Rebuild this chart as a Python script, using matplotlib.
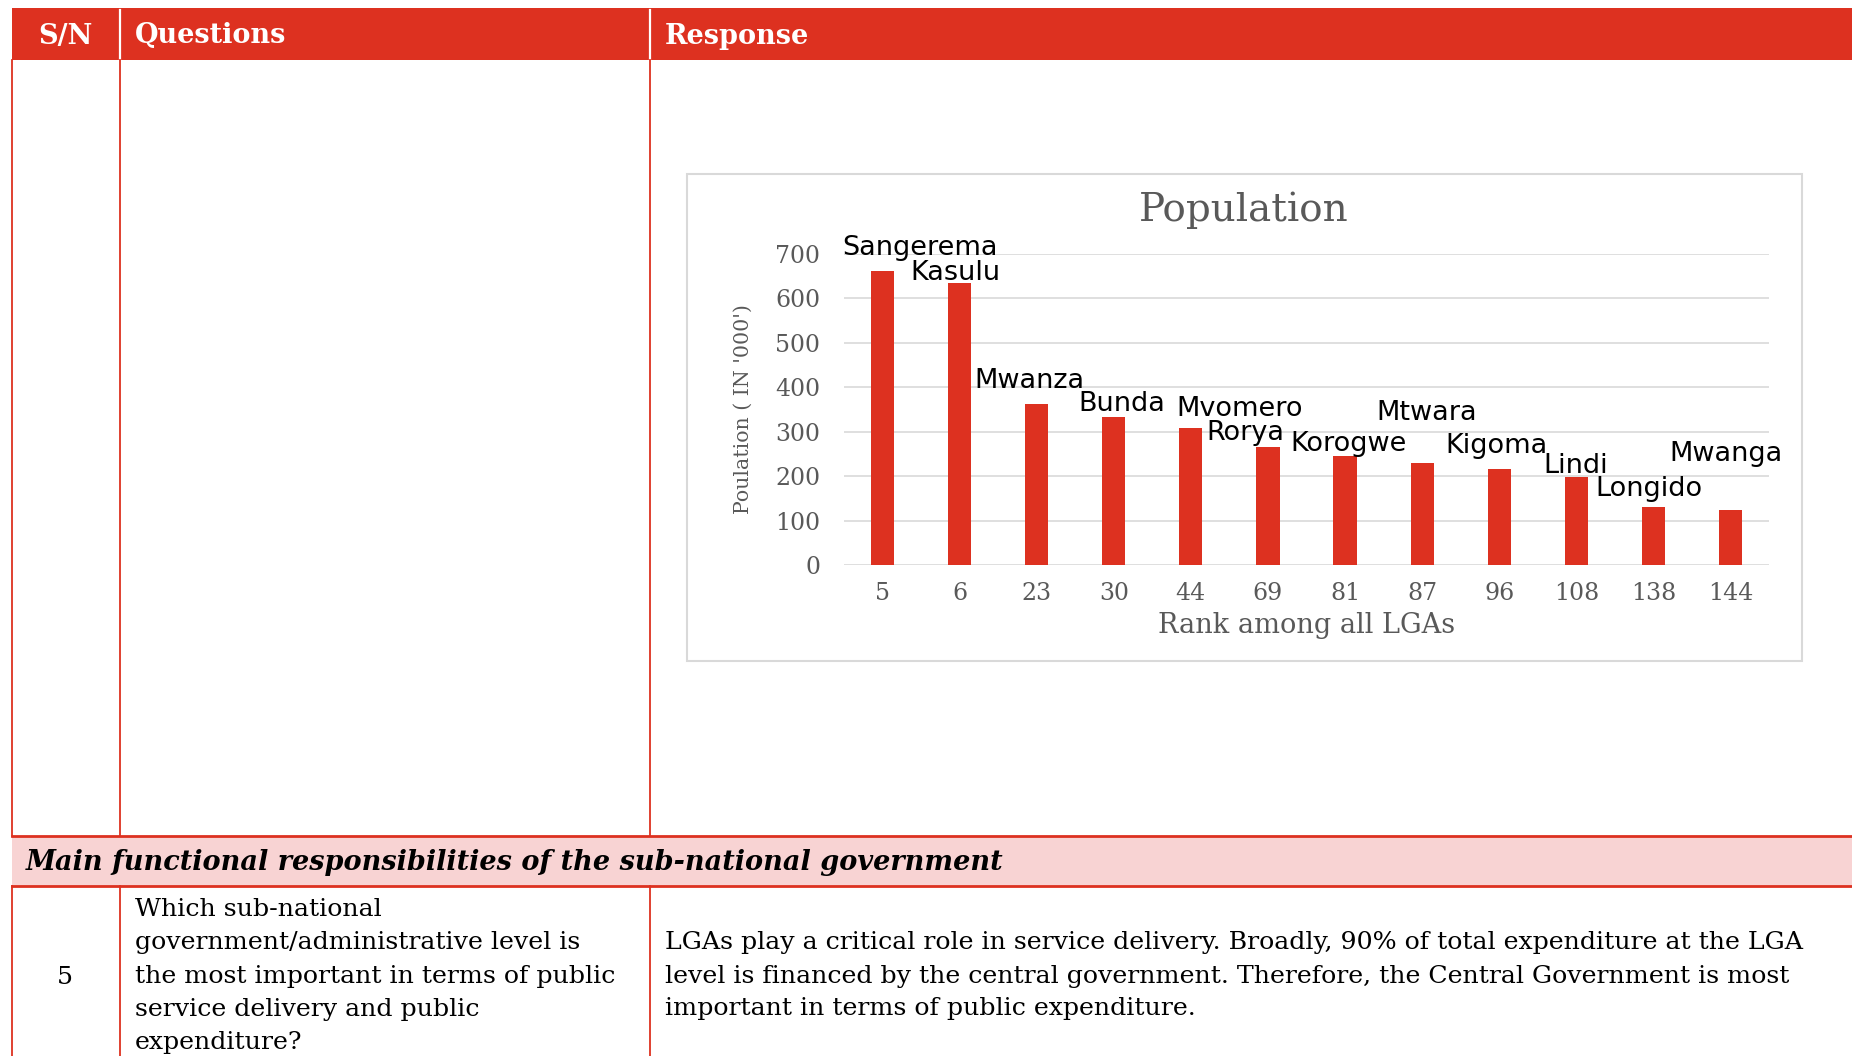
import matplotlib
matplotlib.use("Agg")
import matplotlib.pyplot as plt
from matplotlib.patches import Rectangle

# chart data
lga_names = ["Sangerema", "Kasulu", "Mwanza", "Bunda", "Mvomero", "Rorya",
             "Korogwe", "Mtwara", "Kigoma", "Lindi", "Longido", "Mwanga"]
lga_rank = ["5", "6", "23", "30", "44", "69", "81", "87", "96", "108", "138", "144"]
population = [661, 634, 363, 332, 309, 266, 245, 229, 215, 197, 131, 124]
y_ticks = [0, 100, 200, 300, 400, 500, 600, 700]

# where excel left the data labels (offset from bar, height in data units)
label_dx = [0.48, -0.06, -0.09, 0.10, 0.63, -0.29, 0.05, 0.06, -0.04, -0.01, -0.06, -0.06]
label_y = [713, 657, 415, 363, 350, 298, 273, 343, 268, 223, 171, 250]

# table text
header = ["S/N", "Questions", "Response"]
section_title = "Main functional responsibilities of the sub-national government"
row_no = "5"
question_lines = ["Which sub-national",
                  "government/administrative level is",
                  "the most important in terms of public",
                  "service delivery and public",
                  "expenditure?"]
response_lines = ["LGAs play a critical role in service delivery. Broadly, 90% of total expenditure at the LGA",
                  "level is financed by the central government. Therefore, the Central Government is most",
                  "important in terms of public expenditure."]

RED = "#dd3120"
PINK = "#f8d3d3"
GREY = "#595959"
W, H = 1852, 1056
BODY = 18.2

fig = plt.figure(figsize=(W / 100, H / 100), dpi=100)
bg = fig.add_axes([0, 0, 1, 1])
bg.set_xlim(0, W)
bg.set_ylim(H, 0)
bg.axis("off")

# header band
bg.add_patch(Rectangle((12, 8), W - 12, 52, facecolor=RED, edgecolor="none"))
for x in (120, 650):
    bg.plot([x, x], [10, 59], color="white", lw=1.6)
bg.text(65, 36, header[0], color="white", fontsize=19.5, fontweight="bold",
        family="DejaVu Serif", ha="center", va="center")
bg.text(135, 36, header[1], color="white", fontsize=19.5, fontweight="bold",
        family="DejaVu Serif", ha="left", va="center")
bg.text(665, 36, header[2], color="white", fontsize=19.5, fontweight="bold",
        family="DejaVu Serif", ha="left", va="center")

# vertical cell borders
for x in (12, 120, 650):
    bg.plot([x, x], [60, 836], color=RED, lw=1.3)
    bg.plot([x, x], [886, H], color=RED, lw=1.3)

# section band
bg.add_patch(Rectangle((12, 836), W - 12, 50, facecolor=PINK, edgecolor="none"))
bg.plot([12, W], [836, 836], color=RED, lw=2)
bg.plot([12, W], [886, 886], color=RED, lw=2)
bg.text(26, 862, section_title, fontsize=19.5, fontweight="bold", style="italic",
        family="DejaVu Serif", ha="left", va="center")

# row 5
bg.text(65, 978, row_no, fontsize=BODY, family="DejaVu Serif", ha="center", va="center")
for i, line in enumerate(question_lines):
    bg.text(135, 909 + i * 33.5, line, fontsize=BODY, family="DejaVu Serif",
            ha="left", va="center")
for i, line in enumerate(response_lines):
    bg.text(665, 943 + i * 33, line, fontsize=BODY, family="DejaVu Serif",
            ha="left", va="center")

# chart frame
bg.add_patch(Rectangle((687, 174), 1115, 487, facecolor="white",
                       edgecolor="#d9d9d9", lw=1.5))
bg.text(1244, 210, "Population", fontsize=28, color=GREY, family="DejaVu Serif",
        ha="center", va="center")

# chart
ax = fig.add_axes([844 / W, 1 - 565 / H, (1769 - 844) / W, (565 - 254) / H])
ax.set_facecolor("none")
xs = range(len(population))
ax.bar(xs, population, width=0.3, color=RED, zorder=3)
ax.set_xlim(-0.5, len(population) - 0.5)
ax.set_ylim(0, 700)
ax.set_yticks(y_ticks)
ax.set_xticks(list(xs))
ax.set_xticklabels(lga_rank)
ax.tick_params(length=0, labelsize=17, labelcolor=GREY)
ax.tick_params(axis="y", pad=17)
ax.tick_params(axis="x", pad=12)
for lab in ax.get_xticklabels() + ax.get_yticklabels():
    lab.set_family("DejaVu Serif")
ax.yaxis.grid(True, color="#d9d9d9", lw=1.2, zorder=0)
for s in ax.spines.values():
    s.set_visible(False)

ax.set_ylabel("Poulation ( IN '000')", fontsize=14.8, color=GREY, family="DejaVu Serif")
ax.yaxis.set_label_coords(-0.099, 0.5)
ax.set_xlabel("Rank among all LGAs", fontsize=19.5, color=GREY, family="DejaVu Serif")
ax.xaxis.set_label_coords(0.5, -0.15)

for i, name in enumerate(lga_names):
    ax.text(i + label_dx[i], label_y[i], name, fontsize=19.5, family="DejaVu Sans",
            ha="center", va="center", clip_on=False, zorder=4)

fig.savefig("out.png", dpi=100)
